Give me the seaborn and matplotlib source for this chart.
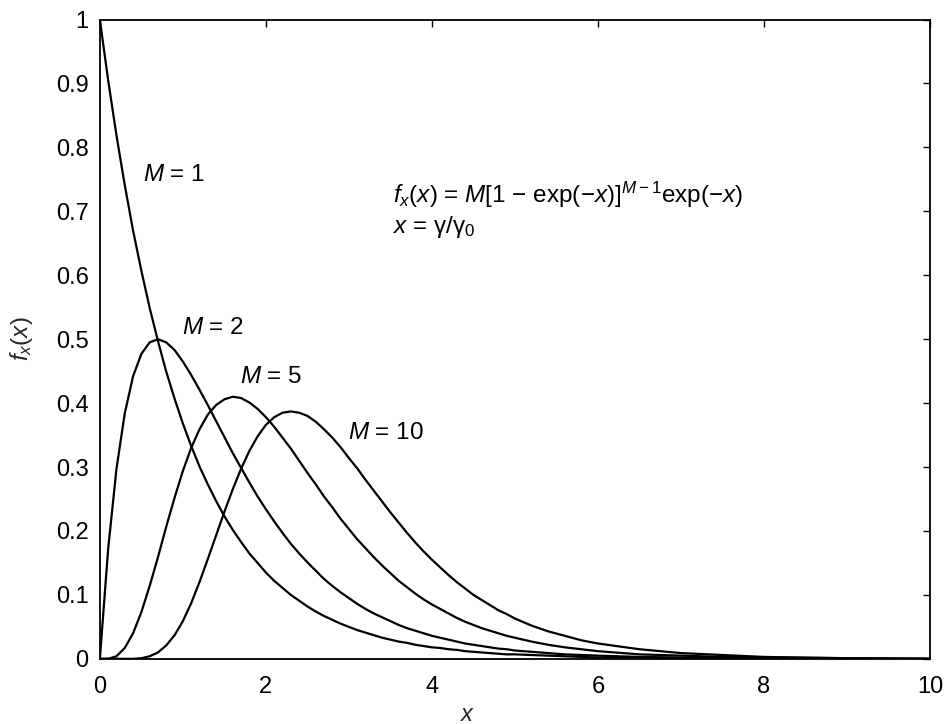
import matplotlib
matplotlib.use("Agg")
import matplotlib.pyplot as plt
import numpy as np
import pandas as pd
import seaborn as sns

# Sample positions along x (finer where the curves bend)
x_vals = [0.0, 0.1, 0.2, 0.3, 0.4, 0.5, 0.6, 0.7, 0.8, 0.9,
          1.0, 1.1, 1.2, 1.3, 1.4, 1.5, 1.6, 1.7, 1.8, 1.9,
          2.0, 2.1, 2.2, 2.3, 2.4, 2.5, 2.6, 2.7, 2.8, 2.9,
          3.0, 3.1, 3.2, 3.3, 3.4, 3.5, 3.6, 3.7, 3.8, 3.9,
          4.0, 4.1, 4.2, 4.3, 4.4, 4.5, 4.6, 4.7, 4.8, 4.9,
          5.0, 5.2, 5.4, 5.6, 5.8, 6.0, 6.5, 7.0, 7.5, 8.0, 9.0, 10.0]

pdf_m1 = [1.000, 0.905, 0.819, 0.741, 0.670, 0.607, 0.549, 0.497, 0.449, 0.407,
          0.368, 0.333, 0.301, 0.273, 0.247, 0.223, 0.202, 0.183, 0.165, 0.150,
          0.135, 0.122, 0.111, 0.100, 0.091, 0.082, 0.074, 0.067, 0.061, 0.055,
          0.050, 0.045, 0.041, 0.037, 0.033, 0.030, 0.027, 0.025, 0.022, 0.020,
          0.018, 0.017, 0.015, 0.014, 0.012, 0.011, 0.010, 0.009, 0.008, 0.007,
          0.007, 0.006, 0.005, 0.004, 0.003, 0.002, 0.002, 0.001, 0.001, 0.000, 0.000, 0.000]

pdf_m2 = [0.000, 0.172, 0.297, 0.384, 0.442, 0.477, 0.495, 0.500, 0.495, 0.483,
          0.465, 0.444, 0.421, 0.397, 0.372, 0.347, 0.322, 0.299, 0.276, 0.254,
          0.234, 0.215, 0.197, 0.180, 0.165, 0.151, 0.138, 0.125, 0.114, 0.104,
          0.095, 0.086, 0.078, 0.071, 0.065, 0.059, 0.053, 0.048, 0.044, 0.040,
          0.036, 0.033, 0.030, 0.027, 0.024, 0.022, 0.020, 0.018, 0.016, 0.015,
          0.013, 0.011, 0.009, 0.007, 0.006, 0.005, 0.003, 0.002, 0.001, 0.001, 0.000, 0.000]

pdf_m5 = [0.000, 0.000, 0.004, 0.017, 0.040, 0.073, 0.114, 0.159, 0.207, 0.252,
          0.294, 0.330, 0.359, 0.382, 0.397, 0.406, 0.410, 0.408, 0.401, 0.391,
          0.378, 0.363, 0.346, 0.329, 0.310, 0.291, 0.273, 0.254, 0.237, 0.219,
          0.203, 0.187, 0.173, 0.159, 0.146, 0.134, 0.122, 0.112, 0.102, 0.093,
          0.085, 0.078, 0.071, 0.064, 0.058, 0.053, 0.048, 0.044, 0.040, 0.036,
          0.033, 0.027, 0.022, 0.018, 0.015, 0.012, 0.007, 0.005, 0.003, 0.002, 0.001, 0.000]

pdf_m10 = [0.000, 0.000, 0.000, 0.000, 0.000, 0.001, 0.004, 0.010, 0.021, 0.037,
           0.059, 0.087, 0.120, 0.156, 0.193, 0.230, 0.265, 0.297, 0.325, 0.348,
           0.366, 0.378, 0.385, 0.387, 0.385, 0.380, 0.371, 0.359, 0.346, 0.331,
           0.314, 0.298, 0.280, 0.263, 0.246, 0.229, 0.213, 0.197, 0.182, 0.168,
           0.155, 0.143, 0.131, 0.120, 0.110, 0.100, 0.092, 0.084, 0.076, 0.070,
           0.063, 0.052, 0.043, 0.036, 0.029, 0.024, 0.015, 0.009, 0.006, 0.003, 0.001, 0.000]

series = {"M = 1": pdf_m1, "M = 2": pdf_m2, "M = 5": pdf_m5, "M = 10": pdf_m10}

x_ticks = [0, 2, 4, 6, 8, 10]
y_ticks = [0, 0.1, 0.2, 0.3, 0.4, 0.5, 0.6, 0.7, 0.8, 0.9, 1.0]
y_tick_labels = ["0", "0.1", "0.2", "0.3", "0.4", "0.5", "0.6", "0.7", "0.8", "0.9", "1"]

# Curve labels: (text, x, y) in data units
curve_labels = [("$M$ = 1", 0.52, 0.757),
                ("$M$ = 2", 0.99, 0.518),
                ("$M$ = 5", 1.69, 0.441),
                ("$M$ = 10", 2.99, 0.354)]

df = pd.concat(
    [pd.DataFrame({"x": x_vals, "f": vals, "M": name}) for name, vals in series.items()],
    ignore_index=True,
)

sns.set_theme(style="white")
plt.rcParams["font.family"] = ["Liberation Sans", "DejaVu Sans"]
plt.rcParams["mathtext.fontset"] = "custom"
plt.rcParams["mathtext.rm"] = "Liberation Sans"
plt.rcParams["mathtext.it"] = "Liberation Sans:italic"
plt.rcParams["mathtext.sf"] = "Liberation Sans"

fig = plt.figure(figsize=(9.51, 7.24), dpi=100)
ax = fig.add_axes([0.105, 0.090, 0.873, 0.883])

sns.lineplot(data=df, x="x", y="f", hue="M", units="M", estimator=None,
             palette=["black"] * 4, linewidth=1.6, legend=False, ax=ax)

ax.set_xlim(0, 10)
ax.set_ylim(0, 1)
ax.set_xticks(x_ticks)
ax.set_xticklabels([str(t) for t in x_ticks])
ax.set_yticks(y_ticks)
ax.set_yticklabels(y_tick_labels)
ax.tick_params(direction="in", length=5, width=1.0, top=True, right=True,
               labelsize=17, colors="black")
ax.tick_params(axis="x", pad=12)
ax.tick_params(axis="y", pad=8)
for sp in ax.spines.values():
    sp.set_color("black")
    sp.set_linewidth(1.3)

ax.set_xlabel("$x$", fontsize=17)
ax.xaxis.set_label_coords(0.443, -0.070)
ax.set_ylabel("$f_x(x)$", fontsize=17.5)
ax.yaxis.set_label_coords(-0.078, 0.50)

for text, tx, ty in curve_labels:
    ax.text(tx, ty, text, fontsize=17.5, ha="left", va="center", color="black")

ax.text(3.53, 0.726, "$f_x(x)$ = $M$[1 \u2212 exp(\u2212$x$)]$^{M\u22121}$exp(\u2212$x$)",
        fontsize=17.5, ha="left", va="center", color="black")
ax.text(3.53, 0.676, "$x$ = \u03b3/\u03b3$_0$",
        fontsize=17.5, ha="left", va="center", color="black")

fig.savefig("out.png", dpi=100, facecolor="white")
